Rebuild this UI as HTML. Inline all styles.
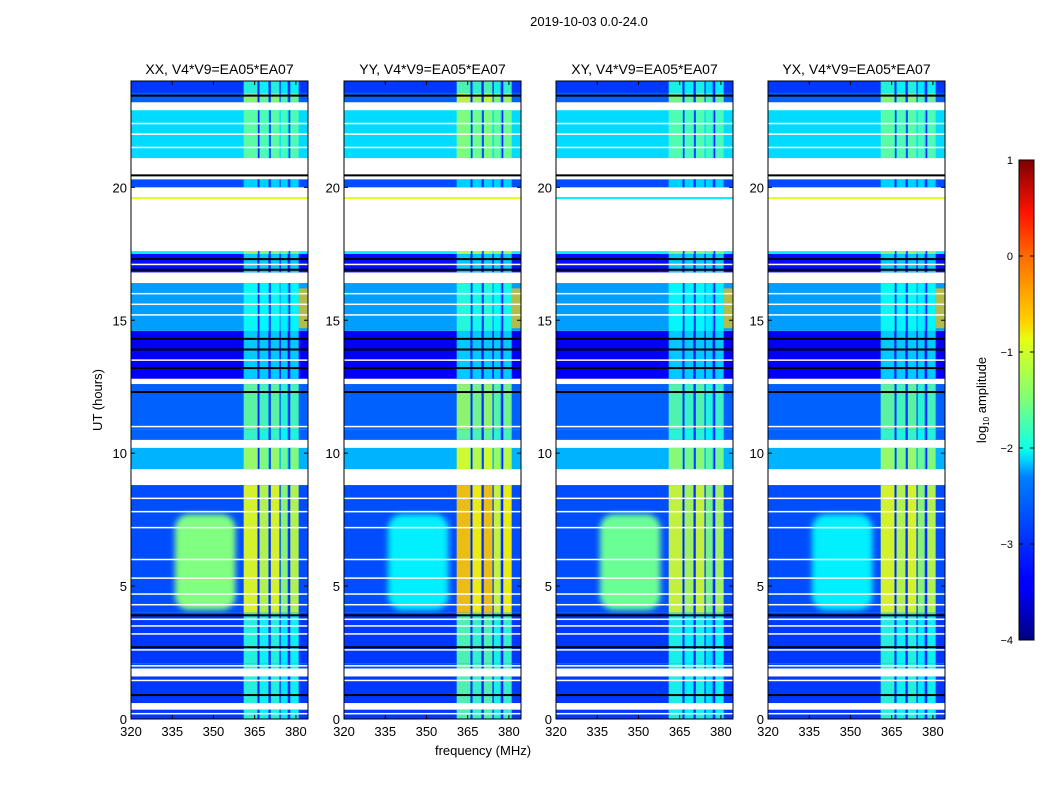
<!DOCTYPE html>
<html><head><meta charset="utf-8"><style>
html,body{margin:0;padding:0;background:#fff;width:1050px;height:800px;overflow:hidden}
svg text{font-family:"Liberation Sans",sans-serif;fill:#000}
</style></head><body>
<svg id="fig" width="1050" height="800" xmlns="http://www.w3.org/2000/svg">
<defs>
<linearGradient id="jetv" x1="0" y1="1" x2="0" y2="0">
<stop offset="0" stop-color="#00007f"/><stop offset="0.11" stop-color="#0000ff"/><stop offset="0.125" stop-color="#0000ff"/>
<stop offset="0.34" stop-color="#0080ff"/><stop offset="0.375" stop-color="#00d4ff"/><stop offset="0.4" stop-color="#10ffe6"/>
<stop offset="0.5" stop-color="#7cff79"/><stop offset="0.625" stop-color="#e4ff13"/><stop offset="0.66" stop-color="#ffd400"/>
<stop offset="0.8" stop-color="#ff6a00"/><stop offset="0.89" stop-color="#ff1300"/><stop offset="1" stop-color="#7f0000"/>
</linearGradient>
<filter id="blur" x="-20%" y="-20%" width="140%" height="140%"><feGaussianBlur stdDeviation="3"/></filter>
</defs>
<text x="589" y="26" font-size="13" text-anchor="middle">2019-10-03 0.0-24.0</text>
<text x="483" y="755" font-size="13" text-anchor="middle">frequency (MHz)</text>
<text transform="translate(102,400) rotate(-90)" font-size="13" text-anchor="middle">UT (hours)</text>
<g id="panels"></g>
<g id="cbar">
<rect x="1019" y="160" width="15" height="480" fill="url(#jetv)" stroke="#000" stroke-width="1"/>
<text transform="translate(986,400) rotate(-90)" font-size="13" text-anchor="middle">log<tspan font-size="8" dy="3">10</tspan><tspan dy="-3"> amplitude</tspan></text>
</g>
</svg>
<script>
// ---- data ----
const panelTitles = ["XX, V4*V9=EA05*EA07","YY, V4*V9=EA05*EA07","XY, V4*V9=EA05*EA07","YX, V4*V9=EA05*EA07"];
const xTicks = [320,335,350,365,380];
const yTicks = [0,5,10,15,20];
const cbTicks = [1,0,-1,-2,-3,-4];
const bandStart = [0.0,0.35,0.6,1.6,1.9,2.1,4.0,8.8,9.4,10.2,10.5,10.9,12.6,12.8,14.6,16.4,16.8,17.5,17.6,20.0,20.3,20.6,21.1,22.9,23.2,23.55];
const bandEnd   = [0.35,0.6,1.6,1.9,2.1,4.0,8.8,9.4,10.2,10.5,10.9,12.6,12.8,14.6,16.4,16.8,17.5,17.6,20.0,20.3,20.6,21.1,22.9,23.2,23.55,24.0];
const bandLevel = [-3.1,null,-3.1,null,-3.0,-3.1,-3.0,null,-2.5,null,-2.9,-2.9,null,-3.4,-2.6,null,-3.3,-2.2,null,-3.0,null,null,-2.3,null,-2.9,-3.1];
const bandRfi   = [1.0,0,1.0,0,1.0,1.0,1.8,0,1.4,0,1.0,1.2,0,0.6,0.6,0,0.5,1.2,0,0.4,0,0,0.9,0,1.4,1.0];
const rfiStart = [361,366.5,370.5,374.5,377.5];
const rfiEnd   = [366,370,374,377,381];
const rfiGain  = [1.0,0.9,1.0,0.8,0.9];
const rfiLines = [366.2,370.3,377.4];
const whiteLines = [0.2,0.45,1.45,1.75,2.0,2.6,3.2,3.5,3.75,4.3,4.7,5.3,6.0,7.2,7.8,8.3,11.0,12.7,13.5,15.2,15.6,16.0,16.6,17.1,21.5,22.0,22.4];
const blackLines = [0.9,2.7,3.9,12.3,13.2,13.9,14.3,16.9,17.3,20.45,23.45];
const sunLevel = [-1.5,-2.2,-1.6,-2.2];
const rfiPeak  = [-1.0,-0.6,-1.1,-1.0];
// ---- layout ----
const panelX = [131,344,556,768];
const PW = 177, PT = 81, PB = 719;
const fMin = 320, fMax = 384.4, tMin = 0, tMax = 24;
function jet(v){
  let t=(v+4)/5; t=Math.max(0,Math.min(1,t));
  const f=x=>Math.max(0,Math.min(1,x));
  const r=f(1.5-Math.abs(4*t-3)), g=f(1.5-Math.abs(4*t-2)), b=f(1.5-Math.abs(4*t-1));
  return `rgb(${Math.round(r*255)},${Math.round(g*255)},${Math.round(b*255)})`;
}
const NS="http://www.w3.org/2000/svg";
function mk(tag,attrs,parent){const e=document.createElementNS(NS,tag);for(const k in attrs)e.setAttribute(k,attrs[k]);parent.appendChild(e);return e;}
const root=document.getElementById('panels');
panelX.forEach((x0,p)=>{
  const xs=f=>x0+(f-fMin)/(fMax-fMin)*PW;
  const ys=t=>PB-(t-tMin)/(tMax-tMin)*(PB-PT);
  const g=mk('g',{},root);
  
  
  const cp=mk('clipPath',{id:'cp'+p},g);mk('rect',{x:x0,y:PT,width:PW,height:PB-PT},cp);
  const d=mk('g',{'clip-path':`url(#cp${p})`},g);
  mk('rect',{x:x0,y:PT,width:PW,height:PB-PT,fill:'#fff'},d);
  for(let i=0;i<bandStart.length;i++){
    if(bandLevel[i]===null)continue;
    const y1=ys(bandEnd[i]),y2=ys(bandStart[i]);
    const r=mk('rect',{x:x0,y:y1,width:PW,height:y2-y1,fill:jet(bandLevel[i])},d);
    
    
    if(bandRfi[i]>0){
      for(let c=0;c<rfiStart.length;c++){
        const lv=bandLevel[i]+(rfiPeak[p]-bandLevel[i])*Math.min(1,bandRfi[i]*rfiGain[c]/1.8);
        const rr=mk('rect',{x:xs(rfiStart[c]),y:y1,width:xs(rfiEnd[c])-xs(rfiStart[c]),height:y2-y1,fill:jet(Math.max(lv,-2.3)),opacity:0.92},d);
        
        
      }
      rfiLines.forEach(f=>{mk('rect',{x:xs(f),y:y1,width:1.5,height:y2-y1,fill:jet(-3.2)},d);});
    }
  }
  const s=mk('rect',{x:xs(336),y:ys(7.7),width:xs(358)-xs(336),height:ys(4.1)-ys(7.7),rx:14,fill:jet(sunLevel[p]),filter:'url(#blur)'},d);
  
  
  mk('rect',{x:xs(381),y:ys(16.2),width:xs(385)-xs(381),height:ys(14.7)-ys(16.2),fill:jet(-0.6),opacity:0.7},d);
  mk('rect',{x:x0,y:ys(19.6)-1,width:PW,height:2,fill:jet(p===2?-2.2:-1.0)},d);
  whiteLines.forEach(t=>mk('rect',{x:x0,y:ys(t)-0.75,width:PW,height:1.5,fill:'#fff'},d));
  blackLines.forEach(t=>mk('rect',{x:x0,y:ys(t)-1,width:PW,height:2,fill:'#000'},d));
  mk('rect',{x:x0,y:PT,width:PW,height:PB-PT,fill:'none',stroke:'#000','stroke-width':1},g);
  const tt=mk('text',{x:x0+PW/2,y:PT-7,'font-size':14,'text-anchor':'middle'},g);tt.textContent=panelTitles[p];
  
  
  xTicks.forEach(f=>{
    const X=xs(f);
    mk('line',{x1:X,x2:X,y1:PB,y2:PB-4,stroke:'#000'},g);mk('line',{x1:X,x2:X,y1:PT,y2:PT+4,stroke:'#000'},g);
    const t=mk('text',{x:X,y:PB+17,'font-size':13,'text-anchor':'middle'},g);t.textContent=f;
    
    
  });
  yTicks.forEach(v=>{
    const Y=ys(v);
    mk('line',{x1:x0,x2:x0+4,y1:Y,y2:Y,stroke:'#000'},g);mk('line',{x1:x0+PW,x2:x0+PW-4,y1:Y,y2:Y,stroke:'#000'},g);
    const t=mk('text',{x:x0-4,y:Y+5,'font-size':13,'text-anchor':'end'},g);t.textContent=v;
    
    
  });
});
const cb=document.getElementById('cbar');
cbTicks.forEach(v=>{
  const Y=640-(v+4)/5*480;
  mk('line',{x1:1019,x2:1023,y1:Y,y2:Y,stroke:'#000'},cb);mk('line',{x1:1034,x2:1030,y1:Y,y2:Y,stroke:'#000'},cb);
  const t=mk('text',{x:1013,y:Y+4,'font-size':11,'text-anchor':'end'},cb);t.textContent=v<0?'\u2212'+(-v):String(v);
  
  
});
</script>
</body></html>
